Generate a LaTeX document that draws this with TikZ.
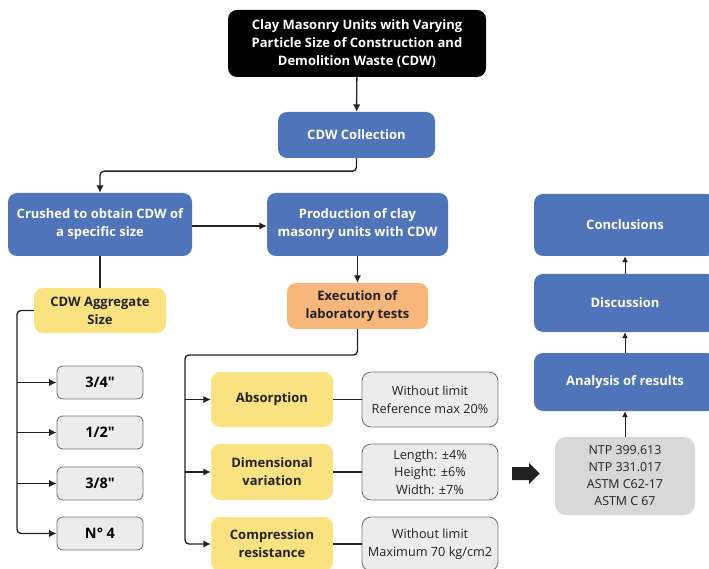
\documentclass[tikz,border=0pt]{standalone}
\usepackage{fontspec}
\setmainfont{Open Sans}[Ligatures=TeXOff]
\usetikzlibrary{arrows.meta}

\definecolor{boxblue}{RGB}{79,116,186}
\definecolor{boxyellow}{RGB}{250,226,128}
\definecolor{boxorange}{RGB}{246,182,124}
\definecolor{boxgrey}{RGB}{236,236,236}
\definecolor{stdgrey}{RGB}{216,216,216}
\definecolor{edgegrey}{RGB}{120,120,120}
\definecolor{linedark}{RGB}{34,34,34}

\tikzset{
  box/.style={rounded corners=9pt, align=center, inner sep=0pt,
    font=\fontsize{13}{18}\selectfont\bfseries},
  bluebox/.style={box, fill=boxblue, text=white},
  yellowbox/.style={box, fill=boxyellow, text=linedark},
  sizebox/.style={box, rounded corners=6pt, fill=boxgrey, draw=edgegrey, line width=0.9pt,
    minimum width=86pt, minimum height=33pt, font=\fontsize{14.5}{18}\selectfont\bfseries},
  limitbox/.style={rounded corners=9pt, align=center, inner sep=0pt, fill=boxgrey,
    draw=edgegrey, line width=0.9pt, minimum width=136pt,
    font=\fontsize{12.7}{17.5}\selectfont, text=linedark},
  link/.style={draw=linedark, line width=1.4pt, rounded corners=4pt},
  arr/.style={link, -{Latex[length=7.5pt,width=7.5pt]}},
  thinarr/.style={draw=linedark, line width=1pt, -{Latex[length=6pt,width=6pt]}}
}

\begin{document}
\begin{tikzpicture}[x=1pt,y=1pt,yscale=-1]
\useasboundingbox (0,0) rectangle (709,569);

% top of the flow
\node[box, fill=black, text=white, minimum width=258pt, minimum height=67pt] (title) at (357,43.5)
  {Clay Masonry Units with Varying\\Particle Size of Construction and\\Demolition Waste (CDW)};
\node[bluebox, minimum width=157pt, minimum height=46pt] (collect) at (356.5,135) {CDW Collection};
\node[bluebox, minimum width=184pt, minimum height=63pt] (crush) at (100,224.5)
  {Crushed to obtain CDW of\\a specific size};
\node[bluebox, minimum width=181pt, minimum height=63pt] (produce) at (357.5,224.5)
  {Production of clay\\masonry units with CDW};

% aggregate sizes
\node[yellowbox, minimum width=132pt, minimum height=45pt] (aggr) at (100,310.5) {CDW Aggregate\\Size};
\node[sizebox] (s1) at (100,382.5) {3/4"};
\node[sizebox] (s2) at (100,432.5) {1/2"};
\node[sizebox] (s3) at (100,483.5) {3/8"};
\node[sizebox] (s4) at (100,533.5) {N° 4};

% laboratory tests
\node[box, fill=boxorange, text=linedark, minimum width=141pt, minimum height=46pt] (exec) at (357.5,306)
  {Execution of\\laboratory tests};
\node[yellowbox, minimum width=122pt, minimum height=55pt] (absorb) at (272,399.5) {Absorption};
\node[yellowbox, minimum width=122pt, minimum height=56pt] (dimvar) at (272,472) {Dimensional\\variation};
\node[yellowbox, minimum width=122pt, minimum height=54pt] (compr) at (272,544) {Compression\\resistance};
\node[limitbox, minimum height=55pt] (absorblim) at (430,399.5) {Without limit\\Reference max 20\%};
\node[limitbox, minimum height=56pt] (dimvarlim) at (430,472) {Length: ±4\%\\Height: ±6\%\\Width: ±7\%};
\node[limitbox, minimum height=54pt] (comprlim) at (430,544) {Without limit\\Maximum 70 kg/cm2};

% results column
\node[bluebox, minimum width=182pt, minimum height=62pt] (concl) at (625,225) {Conclusions};
\node[bluebox, minimum width=182pt, minimum height=58pt] (discu) at (625,303) {Discussion};
\node[bluebox, minimum width=182pt, minimum height=58pt] (analy) at (625,382) {Analysis of results};
\node[rounded corners=11pt, align=center, inner sep=0pt, fill=stdgrey, minimum width=140pt,
  minimum height=78pt, font=\fontsize{12.4}{17}\selectfont, text=linedark] (stand) at (625,476)
  {NTP 399.613\\NTP 331.017\\ASTM C62-17\\ASTM C 67};

\coordinate (abus) at (17,310.5);
\coordinate (ebus) at (185,355);

% connectors
\draw[arr] (title) -- (collect);
\draw[arr] (collect.south) -- ++(0,13) -| (crush.north);
\draw[arr] (crush.east |- 0,226) -- (produce.west |- 0,226);
\draw[arr] (produce) -- (exec);
\draw[link] (crush) -- (aggr);
\draw[arr] (aggr.west) -- (abus) |- (s4.west);
\foreach \s in {s1,s2,s3}
  \draw[arr] (abus |- \s.west) -- (\s.west);
\draw[arr] (exec.south) |- (ebus) |- (compr.west);
\foreach \t in {absorb,dimvar}
  \draw[arr] (ebus |- \t.west) -- (\t.west);
\draw[link] (absorb) -- (absorblim);
\draw[link] (dimvar) -- (dimvarlim);
\draw[link] (compr) -- (comprlim);
\draw[thinarr] (stand) -- (analy);
\draw[thinarr] (analy) -- (discu);
\draw[thinarr] (discu) -- (concl);

% block arrow towards the standards
\fill[linedark] (512,467) -- (529,467) -- (529,463) -- (539.5,473.5) -- (529,484) -- (529,480) -- (512,480) -- cycle;

\end{tikzpicture}
\end{document}
